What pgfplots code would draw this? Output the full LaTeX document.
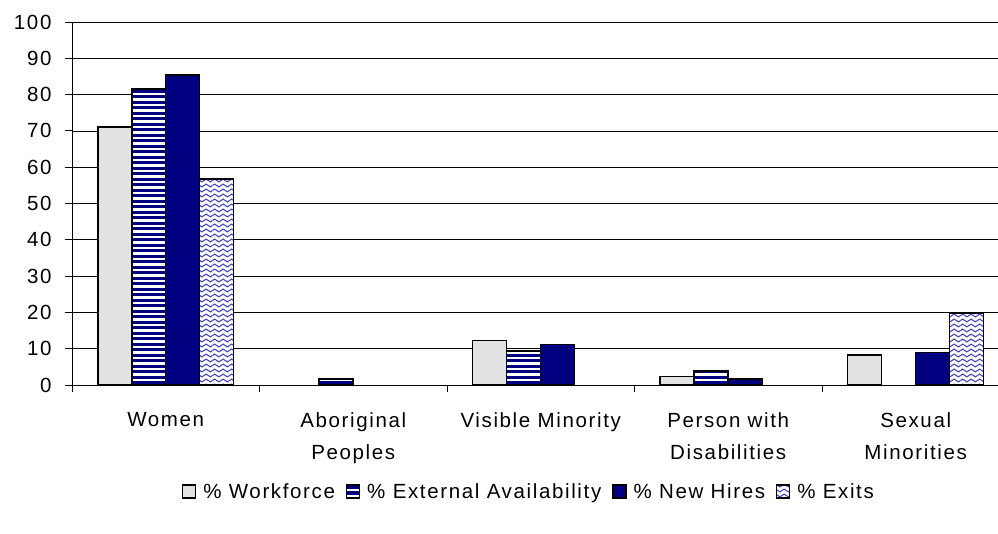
\documentclass[border=0pt]{standalone}
\usepackage{pgfplots}
\pgfplotsset{compat=1.18}
\usepackage{fontspec}
\setmainfont{Liberation Sans}[LetterSpace=8]
\usetikzlibrary{patterns.meta}
\definecolor{navyb}{RGB}{0,0,128}
\definecolor{wfgray}{RGB}{226,226,226}
\definecolor{wavec}{RGB}{70,70,185}
\tikzdeclarepattern{
  name=hstripes, type=uncolored,
  bounding box={(-1pt,0pt) and (21pt,5.5pt)},
  tile size={(20pt,5.5pt)},
  code={\fill (-1pt,0pt) rectangle (21pt,3.3pt);}
}
\tikzdeclarepattern{
  name=waves, type=uncolored,
  bounding box={(-0.5pt,0pt) and (9pt,5pt)},
  tile size={(8.5pt,5pt)},
  code={\draw[line width=1.1pt] (0pt,2.5pt) sin (2.125pt,3.9pt) cos (4.25pt,2.5pt) sin (6.375pt,1.1pt) cos (8.5pt,2.5pt);}
}
\begin{document}
\begin{tikzpicture}
\useasboundingbox (0,0) rectangle (998pt,533pt);
\begin{axis}[
  at={(72pt,148pt)}, anchor=south west,
  scale only axis, width=926pt, height=363pt,
  xmin=-0.5, xmax=4.439, ymin=0, ymax=100,
  axis x line*=bottom, axis y line*=left,
  axis line style={black, line width=1pt},
  ybar=0pt, bar width=0.1813,
  ytick={0,10,...,90}, extra y ticks={100},
  ymajorgrids=true,
  major grid style={black, line width=0.7pt},
  extra y tick style={grid style={gray!75, line width=1.8pt}},
  xtick={-0.5,0.5,1.5,2.5,3.5}, xticklabels={},
  extra x ticks={0,1,2,3,4},
  extra x tick labels={Women,{Aboriginal\\Peoples},{Visible Minority},{Person with\\Disabilities},{Sexual\\Minorities}},
  extra x tick style={major tick length=0pt},
  tick align=outside, major tick length=7pt,
  tick style={black, line width=0.8pt},
  /pgf/number format/assume math mode=true,
  every tick label/.append style={font=\fontsize{20.5}{32}\selectfont},
  xticklabel style={align=center, anchor=north, yshift=-24pt},
  yticklabel style={xshift=-10pt},
  legend style={at={(0.4935,-0.295)}, anchor=center, draw=none, legend columns=4,
    font=\fontsize{20.5}{24}\selectfont,
    /tikz/every even column/.append style={column sep=9pt}},
  legend image code/.code={\draw[#1, line width=1.2pt] (0pt,-6pt) rectangle (13pt,7pt);},
  every axis plot/.append style={draw=black, line width=1.5pt},
]
\addplot[fill=wfgray] coordinates {(0,71.1) (2,12.2) (3,2.3) (4,8.3)};
\addplot[preaction={fill=white}, pattern={hstripes}, pattern color=navyb] coordinates {(0,81.5) (1,1.7) (2,9.4) (3,3.9)};
\addplot[fill=navyb] coordinates {(0,85.4) (2,11.1) (3,1.6) (4,8.9)};
\addplot[preaction={fill=white}, pattern={waves}, pattern color=wavec] coordinates {(0,56.7) (4,19.8)};
\legend{\hspace*{5pt}\% Workforce, \hspace*{5pt}\% External Availability, \hspace*{5pt}\% New Hires, \hspace*{5pt}\% Exits}
\end{axis}
\end{tikzpicture}
\end{document}
